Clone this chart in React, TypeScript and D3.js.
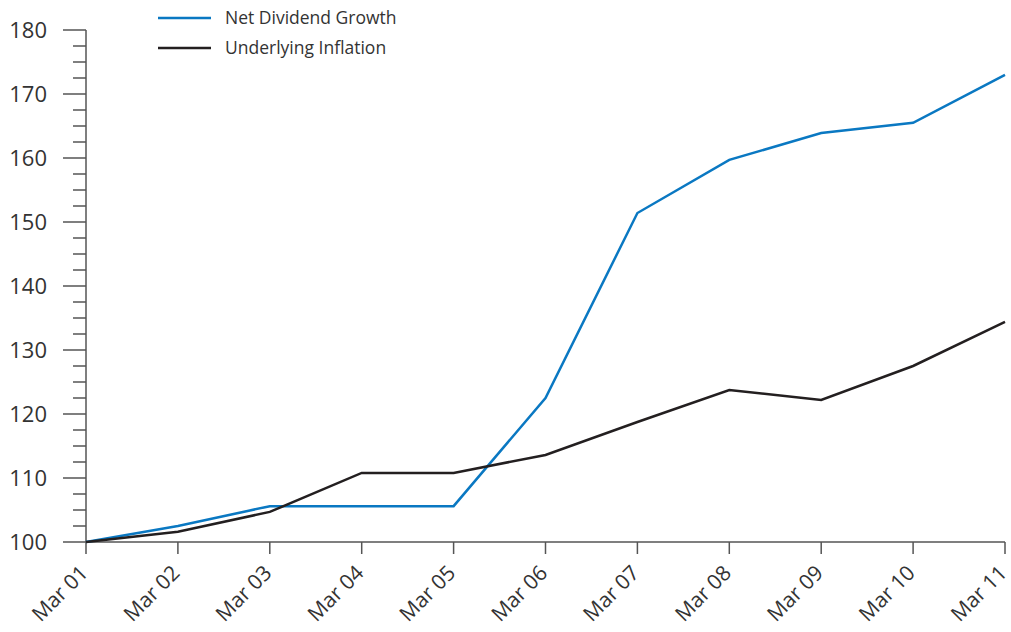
import React from "react";
import * as d3 from "d3";

const categories = ["Mar 01","Mar 02","Mar 03","Mar 04","Mar 05","Mar 06","Mar 07","Mar 08","Mar 09","Mar 10","Mar 11"];
const dividendGrowth = [100, 102.5, 105.6, 105.6, 105.6, 122.5, 151.4, 159.7, 163.9, 165.5, 173.0];
const inflation = [100, 101.6, 104.7, 110.8, 110.8, 113.6, 118.75, 123.75, 122.2, 127.5, 134.4];
const yMajorTicks = [100, 110, 120, 130, 140, 150, 160, 170, 180];
const seriesNames = ["Net Dividend Growth", "Underlying Inflation"];
const seriesColors = ["#0a78c2", "#231f20"];

export default function App() {
  const W = 1011, H = 632;
  const left = 86, right = 1005, top = 30, bottom = 542;
  const x = d3.scalePoint<string>().domain(categories).range([left, right]);
  const y = d3.scaleLinear().domain([100, 180]).range([bottom, top]);
  const minor = d3.range(100, 180.01, 2.5).filter(v => !yMajorTicks.includes(v));
  const line = d3.line<number>().x((_, i) => x(categories[i])!).y(d => y(d));
  const series = [dividendGrowth, inflation];
  const font = "'Open Sans', 'Noto Sans', sans-serif";
  const axisColor = "#555";
  return (
    <svg width={W} height={H} style={{ position: "absolute", left: 0, top: 0 }} fontFamily={font}>
      <line x1={left} x2={left} y1={top} y2={bottom} stroke={axisColor} strokeWidth={1.5} />
      <line x1={left} x2={right} y1={bottom} y2={bottom} stroke={axisColor} strokeWidth={1.5} />
      {yMajorTicks.map(v => (
        <g key={v}>
          <line x1={left - 23} x2={left} y1={y(v)} y2={y(v)} stroke={axisColor} strokeWidth={1.5} />
          <text x={left - 39} y={y(v)} dy="0.36em" textAnchor="end" fontSize={22} fill="#333">{v}</text>
        </g>
      ))}
      {minor.map(v => (
        <line key={v} x1={left - 13} x2={left} y1={y(v)} y2={y(v)} stroke={axisColor} strokeWidth={1.5} />
      ))}
      {categories.map(c => (
        <g key={c}>
          <line x1={x(c)} x2={x(c)} y1={bottom} y2={bottom + 12} stroke={axisColor} strokeWidth={1.5} />
          <text transform={`translate(${x(c)! - 2},${bottom + 27}) rotate(-45)`} textAnchor="end" dy="0.35em" fontSize={21} fill="#333">{c}</text>
        </g>
      ))}
      {series.map((s, i) => (
        <path key={i} d={line(s)!} fill="none" stroke={seriesColors[i]} strokeWidth={2.5} />
      ))}
      {seriesNames.map((n, i) => (
        <g key={n}>
          <line x1={158} x2={211} y1={18 + i * 30} y2={18 + i * 30} stroke={seriesColors[i]} strokeWidth={2.5} />
          <text x={225} y={18 + i * 30} dy="0.35em" fontSize={17.5} fill="#333">{n}</text>
        </g>
      ))}
    </svg>
  );
}
